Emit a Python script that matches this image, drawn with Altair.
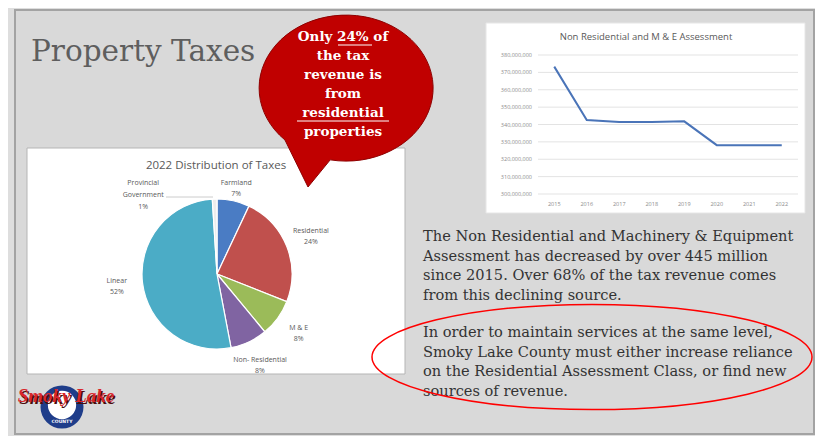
import altair as alt
import pandas as pd

# ---------------- data ----------------
years = ["2015", "2016", "2017", "2018", "2019", "2020", "2021", "2022"]
assessment = [373.3e6, 342.6e6, 341.5e6, 341.5e6, 341.8e6, 328.1e6, 328.0e6, 328.0e6]
y_ticks = [300e6, 310e6, 320e6, 330e6, 340e6, 350e6, 360e6, 370e6, 380e6]

pie_cats = ["Farmland", "Residential", "M & E", "Non- Residential", "Linear", "Provincial\nGovernment"]
pie_vals = [7, 24, 8, 8, 52, 1]
pie_colors = ["#4a7cc4", "#c0504d", "#9bbb59", "#8064a2", "#4bacc6", "#ececec"]

title_text = "Property Taxes"
bubble_lines = ["Only 24% of", "the tax", "revenue is", "from", "residential", "properties"]
para1 = ["The Non Residential and Machinery & Equipment",
         "Assessment has decreased by over 445 million",
         "since 2015.  Over 68% of the tax revenue comes",
         "from this declining source."]
para2 = ["In order to maintain services at the same level,",
         "Smoky Lake County must either increase reliance",
         "on the Residential Assessment Class, or find new",
         "sources of revenue."]
pie_title = "2022 Distribution of Taxes"
line_title = "Non Residential and M & E Assessment"

# ---------------- tables ----------------
line_df = pd.DataFrame({"year": years, "value": assessment})
tick_df = pd.DataFrame({"tick": y_ticks})
pie_df = pd.DataFrame({
    "cat": pie_cats,
    "value": pie_vals,
    "order": list(range(len(pie_cats))),
})
pie_df["label"] = [c + "\n" + str(v) + "%" for c, v in zip(pie_cats, pie_vals)]
one = pd.DataFrame({"a": [0]})

W, H = 807, 428
GRAY_TXT = "#595959"

def base():
    return alt.Chart(one)

# background frame
frame = base().mark_rect(fill="#d9d9d9", stroke="#a3a3a3", strokeWidth=2).encode(
    x=alt.value(7), x2=alt.value(806), y=alt.value(2), y2=alt.value(426))

# panels
pie_panel = base().mark_rect(fill="white", stroke="#b5b5b5", strokeWidth=1).encode(
    x=alt.value(19), x2=alt.value(397), y=alt.value(140), y2=alt.value(366))
line_panel = base().mark_rect(fill="white", stroke="#e6e6e6", strokeWidth=1).encode(
    x=alt.value(478), x2=alt.value(797), y=alt.value(15), y2=alt.value(205))

# title
title = base().mark_text(text=title_text, font="DejaVu Serif", fontSize=29.5, color="#5e5e5e",
                         align="left", baseline="middle").encode(
    x=alt.value(23), y=alt.value(44))

# speech bubble
bubble_path = "M -0.17 0.826 L -0.425 1.138 L -0.69 0.598 A 1 0.839 0 1 1 -0.17 0.826 Z"
bubble = base().mark_point(shape=bubble_path, filled=True, size=30276, fill="#c00000",
                           stroke="#8e0000", strokeWidth=1, opacity=1).encode(
    x=alt.value(337), y=alt.value(80))
bubble_text = base().mark_text(text=bubble_lines, font="DejaVu Serif", fontWeight="bold",
                               fontSize=13.5, lineHeight=19, color="white",
                               align="center", baseline="middle").encode(
    x=alt.value(335), y=alt.value(29))
ul1 = base().mark_rule(color="white", strokeWidth=1).encode(
    x=alt.value(330), x2=alt.value(364), y=alt.value(37))
ul2 = base().mark_rule(color="white", strokeWidth=1).encode(
    x=alt.value(289), x2=alt.value(381), y=alt.value(113))

# ---------------- pie ----------------
CX, CY = 209, 266
pie_title_m = base().mark_text(text=pie_title, font="Open Sans", fontSize=11.5, color=GRAY_TXT,
                               align="center", baseline="middle").encode(
    x=alt.value(208), y=alt.value(158))
arcs = alt.Chart(pie_df).mark_arc(radius=75, stroke="white", strokeWidth=1.2).encode(
    theta=alt.Theta("value:Q", stack=True),
    order=alt.Order("order:Q"),
    color=alt.Color("cat:N", scale=alt.Scale(domain=pie_cats, range=pie_colors), legend=None),
    x=alt.value(CX), y=alt.value(CY))

lab_base = alt.Chart(pie_df).transform_window(
    cum="sum(value)", sort=[alt.SortField("order")], frame=[None, 0]
).transform_calculate(mid="datum.cum - datum.value / 2")
theta_lab = alt.Theta("mid:Q", scale=alt.Scale(domain=[0, 100]))
lab_style = dict(font="Open Sans", fontSize=7, lineBreak="\n", color=GRAY_TXT,
                 align="center", baseline="middle")
labels = lab_base.transform_filter("datum.order >= 1 && datum.order <= 4").mark_text(
    radius=101, dy=-5.5, lineHeight=11, **lab_style).encode(
    theta=theta_lab, text="label:N", x=alt.value(CX), y=alt.value(CY))
labels_farm = lab_base.transform_filter("datum.order == 0").mark_text(
    radius=88, dy=-5.5, lineHeight=11, **lab_style).encode(
    theta=theta_lab, text="label:N", x=alt.value(CX), y=alt.value(CY))
labels_prov = lab_base.transform_filter("datum.order == 5").mark_text(
    radius=90, dx=-71, dy=-1, lineHeight=12, **lab_style).encode(
    theta=theta_lab, text="label:N", x=alt.value(CX), y=alt.value(CY))
prov_leader = base().mark_rule(color="#bfbfbf", strokeWidth=0.8).encode(
    x=alt.value(158), x2=alt.value(205), y=alt.value(189))

# ---------------- line chart ----------------
xs = alt.Scale(type="point", range=[530, 790], padding=0.5)
ys = alt.Scale(domain=[300e6, 380e6], range=[186, 47], zero=False, nice=False)

line_title_m = base().mark_text(text=line_title, font="Open Sans", fontSize=9.5, color=GRAY_TXT,
                                align="center", baseline="middle").encode(
    x=alt.value(638), y=alt.value(29))
grid = alt.Chart(tick_df).mark_rule(color="#e3e3e3", strokeWidth=1).encode(
    y=alt.Y("tick:Q", scale=ys, axis=None), x=alt.value(530), x2=alt.value(790))
ylab = alt.Chart(tick_df).mark_text(font="Open Sans", fontSize=5.5, color="#8a8a8a",
                                    align="right", baseline="middle").encode(
    y=alt.Y("tick:Q", scale=ys, axis=None), x=alt.value(524),
    text=alt.Text("tick:Q", format=","))
line = alt.Chart(line_df).mark_line(color="#4a74b8", strokeWidth=2).encode(
    x=alt.X("year:O", scale=xs, axis=None),
    y=alt.Y("value:Q", scale=ys, axis=None))
xlab = alt.Chart(line_df).mark_text(font="Open Sans", fontSize=5.5, color="#8a8a8a",
                                    align="center", baseline="middle").encode(
    x=alt.X("year:O", scale=xs, axis=None), y=alt.value(196), text="year:N")

# ---------------- paragraphs ----------------
p1 = base().mark_text(text=para1, font="DejaVu Serif", fontSize=14.6, lineHeight=19.5,
                      color="#333333", align="left", baseline="middle").encode(
    x=alt.value(415), y=alt.value(229))
p2 = base().mark_text(text=para2, font="DejaVu Serif", fontSize=14.6, lineHeight=19.5,
                      color="#333333", align="left", baseline="middle").encode(
    x=alt.value(415), y=alt.value(325))
ell_path = "M -1 0 A 1 0.239 0 1 0 1 0 A 1 0.239 0 1 0 -1 0 Z"
ellipse = base().mark_point(shape=ell_path, filled=False, size=193600, stroke="red",
                            strokeWidth=1.5, opacity=1).encode(
    x=alt.value(584), y=alt.value(349))

# ---------------- logo ----------------
logo_ring = base().mark_point(shape="circle", filled=True, size=1850, fill="#1f3d8a",
                              opacity=1).encode(x=alt.value(54), y=alt.value(399))
logo_inner = base().mark_point(shape="circle", filled=True, size=800, fill="white",
                               opacity=1).encode(x=alt.value(54), y=alt.value(397))
logo_shadow = base().mark_text(text="Smoky Lake", font="Liberation Serif", fontStyle="italic",
                               fontWeight="bold", fontSize=19, color="#4a0c0c",
                               align="center", baseline="middle").encode(
    x=alt.value(59.5), y=alt.value(389.5))
logo_txt = base().mark_text(text="Smoky Lake", font="Liberation Serif", fontStyle="italic",
                            fontWeight="bold", fontSize=19, color="#d8262b",
                            align="center", baseline="middle").encode(
    x=alt.value(58), y=alt.value(388))
logo_county = base().mark_text(text="COUNTY", font="DejaVu Sans", fontSize=4.5, color="white",
                               fontWeight="bold", align="center", baseline="middle").encode(
    x=alt.value(54), y=alt.value(414))

chart = alt.layer(
    frame, pie_panel, line_panel, title,
    bubble, bubble_text, ul1, ul2,
    pie_title_m, arcs, labels, labels_farm, labels_prov, prov_leader,
    line_title_m, grid, ylab, line, xlab,
    p1, p2, ellipse,
    logo_ring, logo_inner, logo_shadow, logo_txt, logo_county,
).resolve_scale(
    x="independent", y="independent", theta="independent", color="independent"
).properties(
    width=W, height=H, padding=0,
    autosize=alt.AutoSizeParams(type="none"),
    background="#dedede",
).configure_view(stroke=None)

chart.save("out.html", embed_options={"renderer": "svg", "actions": False})
